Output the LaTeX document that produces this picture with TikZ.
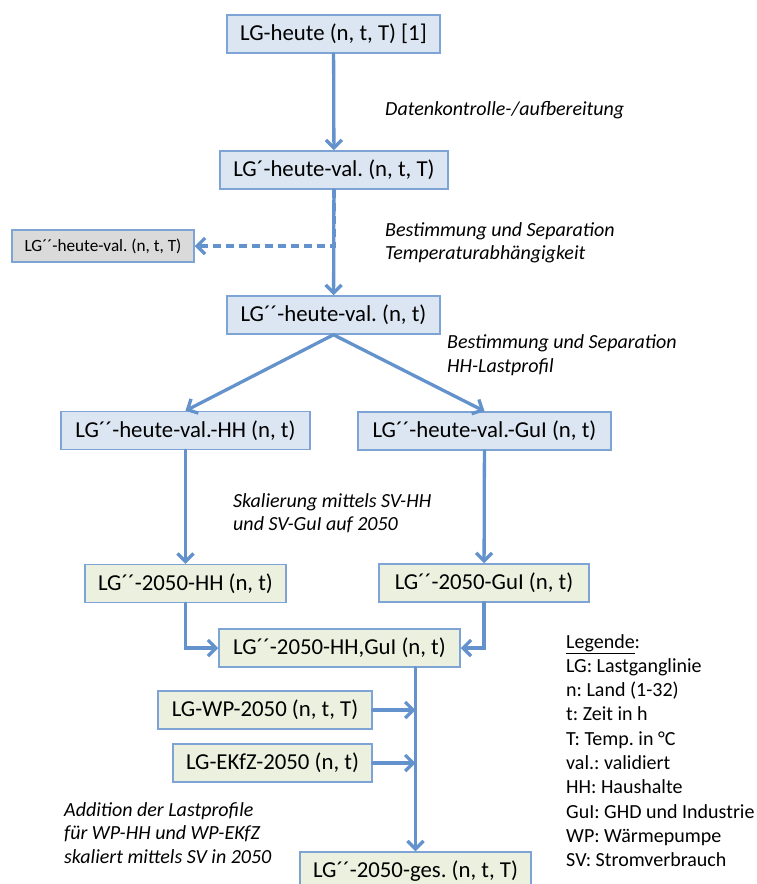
\documentclass[tikz,border=0pt]{standalone}
\usepackage{fontspec}
\setmainfont{Carlito}
\usepackage{tikz}
\usetikzlibrary{arrows.meta,calc}
\definecolor{boxblue}{RGB}{220,230,242}
\definecolor{boxgreen}{RGB}{235,241,222}
\definecolor{boxgrey}{RGB}{218,218,218}
\definecolor{edgeblue}{RGB}{126,164,214}
\definecolor{arrowblue}{RGB}{99,146,204}
\frenchspacing

\begin{document}
\begin{tikzpicture}[x=1pt, y=-1pt, >={Straight Barb[length=8pt,width=16pt]}]
\tikzstyle{block} = [draw=edgeblue, line width=1.5pt, rectangle, fill=boxblue, inner sep=0pt, minimum height=38pt, font=\fontsize{22.8}{26}\selectfont]
\tikzstyle{block2050} = [block, fill=boxgreen]
\tikzstyle{sideblock} = [block, fill=boxgrey, minimum height=32pt, font=\fontsize{17.2}{20}\selectfont]
\tikzstyle{flow} = [draw=arrowblue, line width=3.3pt, line cap=round]
\tikzstyle{note} = [anchor=west, align=left, inner sep=0pt, font=\fontsize{20}{23.5}\selectfont\itshape]
\tikzstyle{legend} = [anchor=west, align=left, inner sep=0pt, font=\fontsize{20}{24.3}\selectfont]

\useasboundingbox (0,0) rectangle (757,884);

    % boxes of today
    \node [block, minimum width=213pt] (heute) at (333.5,34) {LG-heute (n, t, T) [1]};
    \node [block, minimum width=228pt] (val) at (334,170) {LG´-heute-val. (n, t, T)};
    \node [sideblock, minimum width=182pt] (temp) at (103,246) {LG´´-heute-val. (n, t, T)};
    \node [block, minimum width=213pt] (valnt) at (333.5,315) {LG´´-heute-val. (n, t)};
    \node [block, minimum width=249pt] (valHH) at (185.5,430.5) {LG´´-heute-val.-HH (n, t)};
    \node [block, minimum width=253pt] (valGuI) at (484.5,431) {LG´´-heute-val.-GuI (n, t)};

    % boxes of 2050
    \node [block2050, minimum width=201pt] (hh2050) at (185.5,583.5) {LG´´-2050-HH (n, t)};
    \node [block2050, minimum width=210pt] (gui2050) at (484,583) {LG´´-2050-GuI (n, t)};
    \node [block2050, minimum width=241pt] (sum2050) at (339.5,648) {LG´´-2050-HH,GuI (n, t)};
    \node [block2050, minimum width=214pt] (wp) at (265,710) {LG-WP-2050 (n, t, T)};
    \node [block2050, minimum width=199pt] (ekfz) at (272.5,763) {LG-EKfZ-2050 (n, t)};
    \node [block2050, minimum width=231pt] (ges) at (415.5,871) {LG´´-2050-ges. (n, t, T)};

    % notes
    \node [note] (lblkontrolle) at (385,110) {Datenkontrolle-/aufbereitung};
    \node [note] (lbltemp) at (385,243) {Bestimmung und Separation\\Temperaturabhängigkeit};
    \node [note] (lblhh) at (447,355) {Bestimmung und Separation\\HH-Lastprofil};
    \node [note] (lblskal) at (233,513) {Skalierung mittels SV-HH\\und SV-GuI auf 2050};
    \node [note] (lbladd) at (64,833) {Addition der Lastprofile\\für WP-HH und WP-EKfZ\\skaliert mittels SV in 2050};
    \node [legend] (legende) at (566,750.5) {\underline{Legende}:\\LG: Lastganglinie\\n: Land (1-32)\\t: Zeit in h\\T: Temp. in °C\\val.: validiert\\HH: Haushalte\\GuI: GHD und Industrie\\WP: Wärmepumpe\\SV: Stromverbrauch};

    % connectors
    \draw [flow, ->] (heute) -- (val);
    \draw [flow, ->] (val) -- (valnt);
    \draw [flow, ->, dash pattern=on 8pt off 5pt, line cap=butt] (val.south) |- (temp.east);
    \draw [flow, ->] (valnt.south) -- (valHH.north);
    \draw [flow, ->] (valnt.south) -- (valGuI.north);
    \draw [flow, ->] (valHH) -- (hh2050);
    \draw [flow, ->] (valGuI) -- (gui2050);
    \draw [flow, ->] (hh2050.south) |- (sum2050.west);
    \draw [flow, ->] (gui2050.south) |- (sum2050.east);
    \draw [flow, ->] (sum2050.south -| ges.north) -- (ges.north);
    \draw [flow, ->] (wp.east) -- (wp.east -| ges.north);
    \draw [flow, ->] (ekfz.east) -- (ekfz.east -| ges.north);

\end{tikzpicture}
\end{document}
